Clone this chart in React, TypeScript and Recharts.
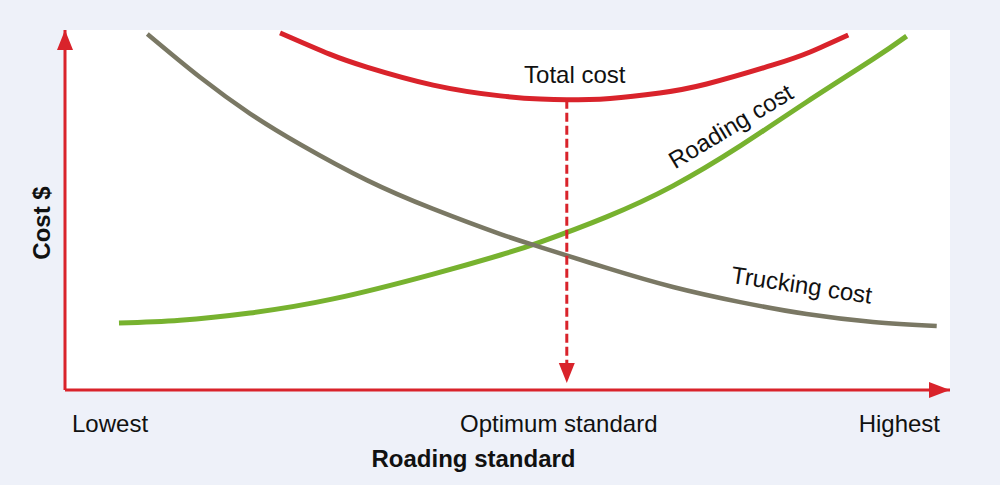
import React from 'react';
import { LineChart, Line, XAxis, YAxis, CartesianGrid, ReferenceDot } from 'recharts';

// roading standard (0 = lowest, 100 = highest) vs cost (0-100)
const roadingStd = [6.1, 13.0, 20.9, 30.3, 41.6, 49.2, 53.7, 61.2, 68.7, 76.3, 83.8, 91.3, 95.1];
const roadingCost = [18.6, 19.4, 21.4, 25.3, 32.2, 37.5, 41.1, 48.1, 56.7, 67.8, 80.0, 91.9, 98.3];

const truckingStd = [9.3, 15.3, 20.9, 26.6, 34.1, 41.6, 49.2, 53.7, 61.2, 68.7, 76.3, 83.8, 91.3, 98.5];
const truckingCost = [98.9, 86.8, 76.8, 68.2, 58.3, 50.3, 43.3, 39.7, 33.9, 28.6, 24.4, 21.1, 18.9, 17.8];

const totalStd = [24.3, 29.9, 34.1, 41.6, 49.2, 53.7, 56.7, 61.6, 67.2, 72.5, 80.0, 84.2, 88.5];
const totalCost = [99.2, 93.3, 89.7, 84.7, 81.7, 80.8, 80.6, 81.0, 82.5, 85.0, 90.3, 93.9, 98.6];

const optimumStd = 56.7;
const optimumCost = [80.6, 7.5];

const tickValues = [0, optimumStd, 100];
const tickLabels = ['Lowest', 'Optimum standard', 'Highest'];

const toPoints = (xs: number[], ys: number[]) => xs.map((x, i) => ({ x, y: ys[i] }));

const roading = toPoints(roadingStd, roadingCost);
const trucking = toPoints(truckingStd, truckingCost);
const total = toPoints(totalStd, totalCost);
const optimum = optimumCost.map((y) => ({ x: optimumStd, y }));

const RED = '#d9232b';
const FONT = '"Liberation Sans", Arial, sans-serif';

const AxisTick = (props: any) => {
  const { x, y, index } = props;
  const anchor = index === 0 ? 'start' : index === 2 ? 'end' : 'middle';
  const dx = index === 0 ? 7 : index === 2 ? -10 : -8;
  return (
    <text x={x + dx} y={y + 36} textAnchor={anchor} fontSize={24} fill="#111" fontFamily={FONT}>
      {tickLabels[index]}
    </text>
  );
};

const XTitle = (props: any) => {
  const { viewBox } = props;
  return (
    <text x={viewBox.x + viewBox.width / 2 - 34} y={viewBox.y + 77} textAnchor="middle"
      fontSize={24} fontWeight="bold" fill="#111" fontFamily={FONT}>
      Roading standard
    </text>
  );
};

const YTitle = (props: any) => {
  const { viewBox } = props;
  const cy = viewBox.y + viewBox.height / 2 + 13;
  return (
    <text transform={`translate(${viewBox.x + 25}, ${cy}) rotate(-90)`} textAnchor="middle"
      fontSize={24} fontWeight="bold" fill="#111" fontFamily={FONT}>
      Cost $
    </text>
  );
};

const curveText = (text: string, angle: number) => (p: any) => (
  <text transform={`translate(${p.cx}, ${p.cy}) rotate(${angle})`} textAnchor="middle"
    fontSize={24} fill="#111" fontFamily={FONT}>
    {text}
  </text>
);

const arrowUp = (p: any) => (
  <polygon points={`${p.cx},${p.cy} ${p.cx - 8},${p.cy + 20} ${p.cx + 8},${p.cy + 20}`} fill={RED} />
);
const arrowRight = (p: any) => (
  <polygon points={`${p.cx},${p.cy} ${p.cx - 21},${p.cy - 8} ${p.cx - 21},${p.cy + 8}`} fill={RED} />
);
const arrowDown = (p: any) => (
  <polygon points={`${p.cx - 8},${p.cy} ${p.cx + 8},${p.cy} ${p.cx},${p.cy + 20}`} fill={RED} />
);

export default function App() {
  return (
    <div style={{ width: 1000, height: 485, background: '#eef1f9' }}>
      <style>{`body{margin:0}`}</style>
      <LineChart width={1000} height={485} margin={{ top: 30, right: 50, left: 25, bottom: 35 }}>
        <CartesianGrid horizontal={false} vertical={false} fill="#ffffff" stroke="none" />
        <XAxis type="number" dataKey="x" domain={[0, 100]} ticks={tickValues} tick={<AxisTick />}
          tickLine={false} axisLine={{ stroke: RED, strokeWidth: 3 }} height={60} tickMargin={0}
          allowDataOverflow label={<XTitle />} />
        <YAxis type="number" dataKey="y" domain={[0, 100]} tick={false} tickLine={false}
          axisLine={{ stroke: RED, strokeWidth: 3 }} width={40} allowDataOverflow label={<YTitle />} />

        <Line data={roading} dataKey="y" type="natural" stroke="#77b22f" strokeWidth={5}
          dot={false} activeDot={false} isAnimationActive={false} />
        <Line data={trucking} dataKey="y" type="natural" stroke="#7a7864" strokeWidth={4.5}
          dot={false} activeDot={false} isAnimationActive={false} />
        <Line data={total} dataKey="y" type="natural" stroke={RED} strokeWidth={5}
          dot={false} activeDot={false} isAnimationActive={false} />
        <Line data={optimum} dataKey="y" type="linear" stroke={RED} strokeWidth={3}
          strokeDasharray="9 4" dot={false} activeDot={false} isAnimationActive={false} />

        <ReferenceDot x={optimumStd} y={optimumCost[1]} r={0} shape={arrowDown} ifOverflow="visible" />
        <ReferenceDot x={0} y={100} r={0} shape={arrowUp} ifOverflow="visible" />
        <ReferenceDot x={100} y={0} r={0} shape={arrowRight} ifOverflow="visible" />

        <ReferenceDot x={57.6} y={85.3} r={0} shape={curveText('Total cost', 0)} ifOverflow="visible" />
        <ReferenceDot x={75.7} y={71.3} r={0} shape={curveText('Roading cost', -31)} ifOverflow="visible" />
        <ReferenceDot x={83.1} y={26.9} r={0} shape={curveText('Trucking cost', 8.5)} ifOverflow="visible" />
      </LineChart>
    </div>
  );
}
